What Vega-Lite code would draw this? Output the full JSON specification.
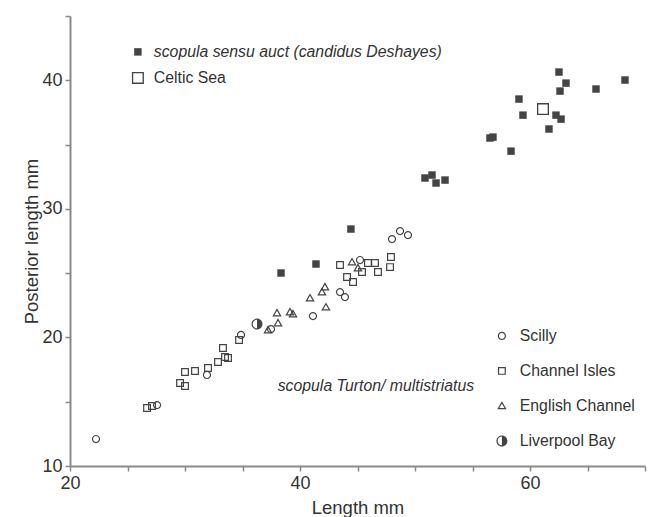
{
  "$schema": "https://vega.github.io/schema/vega-lite/v6.json",
  "width": 575,
  "height": 450,
  "autosize": {"type": "none"},
  "padding": {"left": 70, "top": 16, "right": 4, "bottom": 51},
  "background": "white",
  "config": {
    "view": {"stroke": null},
    "font": "Liberation Sans",
    "axis": {
      "domainColor": "#8a8a8a",
      "domainWidth": 2,
      "tickColor": "#8a8a8a",
      "tickWidth": 1.5,
      "tickSize": 5,
      "labelFont": "Liberation Sans",
      "labelFontSize": 18,
      "labelColor": "#333",
      "titleFont": "Liberation Sans",
      "titleFontSize": 18.5,
      "titleFontWeight": "normal",
      "titleColor": "#333",
      "grid": false,
      "labelOverlap": false,
      "labelFlush": false
    },
    "legend": {
      "labelFont": "Liberation Sans",
      "labelFontSize": 15.8,
      "labelColor": "#333",
      "labelLimit": 0,
      "symbolFillColor": "#444",
      "symbolStrokeWidth": 0,
      "padding": 0
    }
  },
  "datasets": {
    "sensu": [
      {"L": 62.52, "P": 40.64, "group": "scopula sensu auct (candidus Deshayes)"},
      {"L": 63.13, "P": 39.78, "group": "scopula sensu auct (candidus Deshayes)"},
      {"L": 62.61, "P": 39.16, "group": "scopula sensu auct (candidus Deshayes)"},
      {"L": 65.74, "P": 39.32, "group": "scopula sensu auct (candidus Deshayes)"},
      {"L": 68.26, "P": 40.02, "group": "scopula sensu auct (candidus Deshayes)"},
      {"L": 59.04, "P": 38.54, "group": "scopula sensu auct (candidus Deshayes)"},
      {"L": 59.39, "P": 37.29, "group": "scopula sensu auct (candidus Deshayes)"},
      {"L": 62.26, "P": 37.29, "group": "scopula sensu auct (candidus Deshayes)"},
      {"L": 62.70, "P": 36.98, "group": "scopula sensu auct (candidus Deshayes)"},
      {"L": 61.65, "P": 36.21, "group": "scopula sensu auct (candidus Deshayes)"},
      {"L": 56.52, "P": 35.51, "group": "scopula sensu auct (candidus Deshayes)"},
      {"L": 56.78, "P": 35.58, "group": "scopula sensu auct (candidus Deshayes)"},
      {"L": 58.35, "P": 34.49, "group": "scopula sensu auct (candidus Deshayes)"},
      {"L": 50.87, "P": 32.40, "group": "scopula sensu auct (candidus Deshayes)"},
      {"L": 51.48, "P": 32.63, "group": "scopula sensu auct (candidus Deshayes)"},
      {"L": 51.83, "P": 32.01, "group": "scopula sensu auct (candidus Deshayes)"},
      {"L": 52.61, "P": 32.24, "group": "scopula sensu auct (candidus Deshayes)"},
      {"L": 44.43, "P": 28.43, "group": "scopula sensu auct (candidus Deshayes)"},
      {"L": 38.35, "P": 25.01, "group": "scopula sensu auct (candidus Deshayes)"},
      {"L": 41.39, "P": 25.71, "group": "scopula sensu auct (candidus Deshayes)"},
      {"L": 61.13, "P": 37.76, "group": "Celtic Sea"}
    ],
    "turton": [
      {"L": 22.26, "P": 12.10, "group": "Scilly"},
      {"L": 27.57, "P": 14.74, "group": "Scilly"},
      {"L": 31.91, "P": 17.08, "group": "Scilly"},
      {"L": 48.00, "P": 27.65, "group": "Scilly"},
      {"L": 48.70, "P": 28.27, "group": "Scilly"},
      {"L": 49.39, "P": 27.96, "group": "Scilly"},
      {"L": 43.48, "P": 23.53, "group": "Scilly"},
      {"L": 43.91, "P": 23.14, "group": "Scilly"},
      {"L": 41.13, "P": 21.66, "group": "Scilly"},
      {"L": 45.22, "P": 26.02, "group": "Scilly"},
      {"L": 37.48, "P": 20.65, "group": "Scilly"},
      {"L": 34.87, "P": 20.19, "group": "Scilly"},
      {"L": 26.70, "P": 14.51, "group": "Channel Isles"},
      {"L": 27.13, "P": 14.67, "group": "Channel Isles"},
      {"L": 29.57, "P": 16.45, "group": "Channel Isles"},
      {"L": 30.00, "P": 16.22, "group": "Channel Isles"},
      {"L": 30.00, "P": 17.31, "group": "Channel Isles"},
      {"L": 30.87, "P": 17.39, "group": "Channel Isles"},
      {"L": 32.00, "P": 17.62, "group": "Channel Isles"},
      {"L": 32.87, "P": 18.09, "group": "Channel Isles"},
      {"L": 33.48, "P": 18.48, "group": "Channel Isles"},
      {"L": 33.30, "P": 19.18, "group": "Channel Isles"},
      {"L": 33.74, "P": 18.40, "group": "Channel Isles"},
      {"L": 34.70, "P": 19.80, "group": "Channel Isles"},
      {"L": 47.91, "P": 26.25, "group": "Channel Isles"},
      {"L": 47.83, "P": 25.47, "group": "Channel Isles"},
      {"L": 46.78, "P": 25.09, "group": "Channel Isles"},
      {"L": 46.52, "P": 25.79, "group": "Channel Isles"},
      {"L": 43.48, "P": 25.63, "group": "Channel Isles"},
      {"L": 44.09, "P": 24.70, "group": "Channel Isles"},
      {"L": 44.61, "P": 24.31, "group": "Channel Isles"},
      {"L": 45.91, "P": 25.79, "group": "Channel Isles"},
      {"L": 45.39, "P": 25.09, "group": "Channel Isles"},
      {"L": 40.87, "P": 23.06, "group": "English Channel"},
      {"L": 42.26, "P": 22.36, "group": "English Channel"},
      {"L": 38.00, "P": 21.90, "group": "English Channel"},
      {"L": 39.13, "P": 21.98, "group": "English Channel"},
      {"L": 39.39, "P": 21.82, "group": "English Channel"},
      {"L": 38.09, "P": 21.12, "group": "English Channel"},
      {"L": 37.22, "P": 20.58, "group": "English Channel"},
      {"L": 42.17, "P": 23.92, "group": "English Channel"},
      {"L": 41.91, "P": 23.53, "group": "English Channel"},
      {"L": 44.52, "P": 25.86, "group": "English Channel"},
      {"L": 45.04, "P": 25.40, "group": "English Channel"},
      {"L": 36.26, "P": 21.04, "group": "Liverpool Bay"}
    ],
    "note": [
      {"label": "scopula Turton/ multistriatus"}
    ]
  },
  "layer": [
    {
      "data": {"name": "sensu"},
      "mark": {"type": "point", "filled": true, "color": "#444", "opacity": 1, "strokeWidth": 0, "size": 144},
      "encoding": {
        "x": {
          "field": "L",
          "type": "quantitative",
          "scale": {"domain": [20, 70], "nice": false, "zero": false},
          "axis": {
            "title": "Length mm",
            "values": [20, 22.5, 25, 27.5, 30, 32.5, 35, 37.5, 40, 42.5, 45, 47.5, 50, 52.5, 55, 57.5, 60, 62.5, 65, 67.5, 70],
            "format": "d",
            "labelExpr": "datum.value % 20 == 0 && datum.value < 70 ? datum.label : ''",
            "labelPadding": 3,
            "titlePadding": 6
          }
        },
        "y": {
          "field": "P",
          "type": "quantitative",
          "scale": {"domain": [10, 45], "nice": false, "zero": false},
          "axis": {
            "title": "Posterior length mm",
            "values": [10, 12.5, 15, 17.5, 20, 22.5, 25, 27.5, 30, 32.5, 35, 37.5, 40, 42.5, 45],
            "format": "d",
            "labelExpr": "datum.value % 10 == 0 ? datum.label : ''",
            "labelPadding": 3,
            "titlePadding": 0
          }
        },
        "shape": {
          "field": "group",
          "type": "nominal",
          "scale": {
            "domain": ["scopula sensu auct (candidus Deshayes)", "Celtic Sea"],
            "range": ["M-0.62,-0.62H0.62V0.62H-0.62Z", "M-1,-1H1V1H-1ZM-0.78,-0.78V0.78H0.78V-0.78Z"]
          },
          "legend": {
            "title": null,
            "orient": "none",
            "legendX": 60,
            "legendY": 28,
            "symbolSize": 144,
            "rowPadding": 9,
            "labelOffset": 8,
            "symbolFillColor": "#444",
            "symbolStrokeWidth": 0,
            "labelFontStyle": {"expr": "datum.value === 'Celtic Sea' ? 'normal' : 'italic'"}
          }
        }
      }
    },
    {
      "data": {"name": "turton"},
      "mark": {"type": "point", "filled": true, "color": "#444", "opacity": 1, "strokeWidth": 0, "size": 121},
      "encoding": {
        "x": {"field": "L", "type": "quantitative", "scale": {"domain": [20, 70], "nice": false, "zero": false}},
        "y": {"field": "P", "type": "quantitative", "scale": {"domain": [10, 45], "nice": false, "zero": false}},
        "shape": {
          "field": "group",
          "type": "nominal",
          "scale": {
            "domain": ["Scilly", "Channel Isles", "English Channel", "Liverpool Bay"],
            "range": [
              "M0,-0.75A0.75,0.75 0 1,1 0,0.75A0.75,0.75 0 1,1 0,-0.75ZM0,-0.53A0.53,0.53 0 1,0 0,0.53A0.53,0.53 0 1,0 0,-0.53Z",
              "M-0.72,-0.72H0.72V0.72H-0.72ZM-0.5,-0.5V0.5H0.5V-0.5Z",
              "M0,-0.85L0.85,0.62L-0.85,0.62ZM0,-0.41L-0.47,0.4L0.47,0.4Z",
              "M0,-1A1,1 0 1,1 0,1A1,1 0 1,1 0,-1ZM0,-0.78A0.78,0.78 0 1,0 0,0.78A0.78,0.78 0 1,0 0,-0.78ZM0,-0.78A0.78,0.78 0 0,1 0,0.78Z"
            ]
          },
          "legend": {
            "title": null,
            "orient": "none",
            "legendX": 424,
            "legendY": 312,
            "symbolSize": 121,
            "rowPadding": 18,
            "labelOffset": 10,
            "symbolFillColor": "#444",
            "symbolStrokeWidth": 0
          }
        }
      }
    },
    {
      "data": {"name": "note"},
      "mark": {"type": "text", "fontStyle": "italic", "fontSize": 15.8, "color": "#333", "align": "center", "baseline": "middle", "font": "Liberation Sans"},
      "encoding": {
        "x": {"datum": 46.6, "type": "quantitative"},
        "y": {"datum": 16.2, "type": "quantitative"},
        "text": {"field": "label"}
      }
    }
  ],
  "resolve": {"scale": {"shape": "independent"}, "legend": {"shape": "independent"}}
}
